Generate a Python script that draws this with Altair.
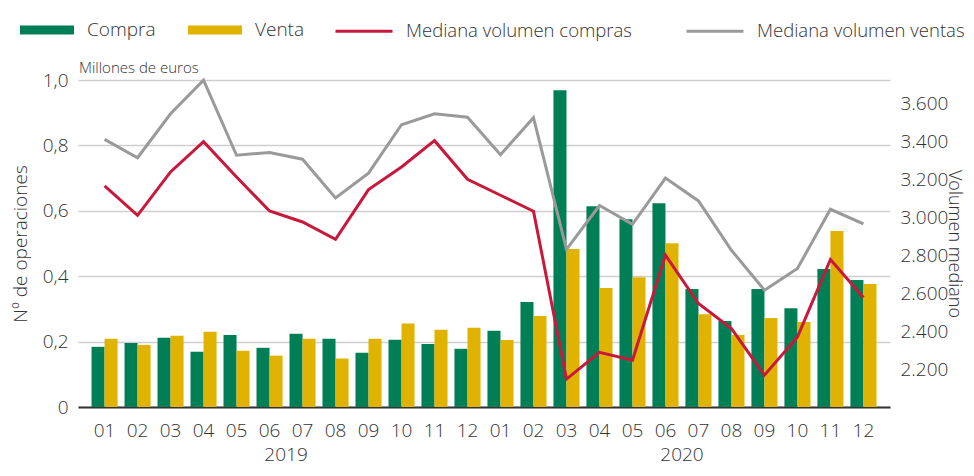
import altair as alt
import pandas as pd

# ---- data ----
years = ["2019", "2020"]
months = ["01", "02", "03", "04", "05", "06", "07", "08", "09", "10", "11", "12"]
periodos = [f"{y}-{m}" for y in years for m in months]

compra = [0.184, 0.196, 0.212, 0.169, 0.220, 0.181, 0.224, 0.209, 0.166, 0.206, 0.193, 0.178,
          0.233, 0.321, 0.969, 0.614, 0.574, 0.623, 0.361, 0.263, 0.361, 0.302, 0.422, 0.388]
venta = [0.209, 0.190, 0.218, 0.230, 0.172, 0.157, 0.209, 0.148, 0.209, 0.255, 0.236, 0.242,
         0.205, 0.278, 0.483, 0.364, 0.397, 0.501, 0.284, 0.220, 0.272, 0.260, 0.538, 0.376]
mediana_compras = [3166, 3011, 3240, 3400, 3213, 3034, 2976, 2885, 3147, 3266, 3405, 3201,
                   3117, 3033, 2147, 2288, 2247, 2801, 2546, 2414, 2168, 2370, 2778, 2578]
mediana_ventas = [3412, 3315, 3547, 3724, 3328, 3343, 3307, 3103, 3234, 3489, 3547, 3529,
                  3331, 3526, 2832, 3063, 2964, 3208, 3087, 2827, 2616, 2731, 3043, 2966]

bar_series = ["Compra", "Venta"]
line_series = ["Mediana volumen compras", "Mediana volumen ventas"]
left_ticks = [0, 0.2, 0.4, 0.6, 0.8, 1.0]
right_ticks = [2200, 2400, 2600, 2800, 3000, 3200, 3400, 3600]
unit_note = ["Millones de euros"]

bars_df = pd.DataFrame(
    [{"periodo": p, "tipo": "Compra", "valor": v} for p, v in zip(periodos, compra)]
    + [{"periodo": p, "tipo": "Venta", "valor": v} for p, v in zip(periodos, venta)]
)
lines_df = pd.DataFrame(
    [{"periodo": p, "serie": line_series[0], "valor": v} for p, v in zip(periodos, mediana_compras)]
    + [{"periodo": p, "serie": line_series[1], "valor": v} for p, v in zip(periodos, mediana_ventas)]
)
years_df = pd.DataFrame({"periodo": ["2019-06", "2020-06"], "label": years})
note_df = pd.DataFrame({"label": unit_note})

FONT = "Open Sans"
FW = 300
TXT = "#333333"
W, H = 812, 327

xscale = alt.Scale(domain=periodos, paddingInner=0.21, paddingOuter=0.41)
xaxis = alt.Axis(
    title=None, labelExpr="substring(datum.value, 5, 7)", labelAngle=0,
    labelFontSize=19, labelPadding=14, labelColor=TXT, labelFont=FONT, labelFontWeight=FW,
    ticks=False, domain=True, domainColor="#333333", domainWidth=2, grid=False,
)

bars = alt.Chart(bars_df).mark_bar().encode(
    x=alt.X("periodo:N", scale=xscale, axis=xaxis, sort=periodos),
    xOffset=alt.XOffset("tipo:N", scale=alt.Scale(domain=bar_series, paddingInner=0, paddingOuter=0)),
    y=alt.Y(
        "valor:Q",
        scale=alt.Scale(domain=[0, 1], nice=False),
        axis=alt.Axis(
            values=left_ticks,
            labelExpr="datum.value == 0 ? '0' : replace(format(datum.value, '.1f'), '.', ',')",
            title="Nº de operaciones", titleFontSize=19, titleFontWeight=FW, titleColor=TXT,
            titleFont=FONT, titleX=-58, titleY=H / 2, titleAngle=-90, titleAlign="center",
            titleBaseline="middle",
            labelFontSize=19, labelColor=TXT, labelFont=FONT, labelFontWeight=FW, labelPadding=10,
            ticks=False, domain=False, grid=True, gridColor="#cfcfcf", gridWidth=1.5,
            orient="left",
        ),
    ),
    color=alt.Color(
        "tipo:N",
        scale=alt.Scale(domain=bar_series, range=["#007f56", "#dfb300"]),
        legend=alt.Legend(
            title=None, orient="none", direction="horizontal", legendX=-58, legendY=-77,
            symbolType="M-1,-0.167H1V0.167H-1Z", symbolSize=2916, symbolStrokeWidth=0,
            labelFontSize=19, labelColor=TXT, labelFont=FONT, labelFontWeight=FW,
            labelOffset=13, columnPadding=32, labelLimit=400,
        ),
    ),
)

lines = alt.Chart(lines_df).mark_line(strokeWidth=3).encode(
    x=alt.X("periodo:N", scale=xscale, axis=xaxis, sort=periodos),
    y=alt.Y(
        "valor:Q",
        scale=alt.Scale(domain=[2000, 3725], nice=False, zero=False),
        axis=alt.Axis(
            values=right_ticks,
            labelExpr="replace(format(datum.value, ','), ',', '.')",
            title="Volumen mediano", titleFontSize=18, titleFontWeight=FW, titleColor=TXT,
            titleFont=FONT, titleX=58, titleY=H / 2, titleAngle=90, titleAlign="center",
            titleBaseline="alphabetic",
            labelFontSize=19, labelColor=TXT, labelFont=FONT, labelFontWeight=FW, labelPadding=10,
            ticks=False, domain=False, grid=False, orient="right",
        ),
    ),
    stroke=alt.Stroke(
        "serie:N",
        scale=alt.Scale(domain=line_series, range=["#c8193c", "#9a9a9a"]),
        legend=alt.Legend(
            title=None, orient="none", direction="horizontal", legendX=256, legendY=-79,
            symbolType="stroke", symbolSize=3249, symbolStrokeWidth=3,
            labelFontSize=18.5, labelColor=TXT, labelFont=FONT, labelFontWeight=FW,
            labelOffset=12, columnPadding=48, labelLimit=400,
        ),
    ),
)

year_text = alt.Chart(years_df).mark_text(
    dx=16.5, fontSize=19, font=FONT, fontWeight=FW, color=TXT, baseline="middle", align="center"
).encode(
    x=alt.X("periodo:N", scale=xscale, axis=xaxis, sort=periodos),
    y=alt.value(H + 48),
    text="label:N",
)

note_text = alt.Chart(note_df).mark_text(
    fontSize=15, font=FONT, fontWeight=FW, color=TXT, baseline="middle", align="left"
).encode(
    x=alt.value(1),
    y=alt.value(-12),
    text="label:N",
)

chart = alt.layer(bars, lines, year_text, note_text).resolve_scale(
    y="independent", color="independent", stroke="independent"
).properties(
    width=W,
    height=H,
    autosize=alt.AutoSizeParams(type="none"),
    padding={"left": 70, "top": 72, "right": 76, "bottom": 61},
).configure_view(stroke=None)

chart.save("out.html", embed_options={"renderer": "svg", "actions": False})
